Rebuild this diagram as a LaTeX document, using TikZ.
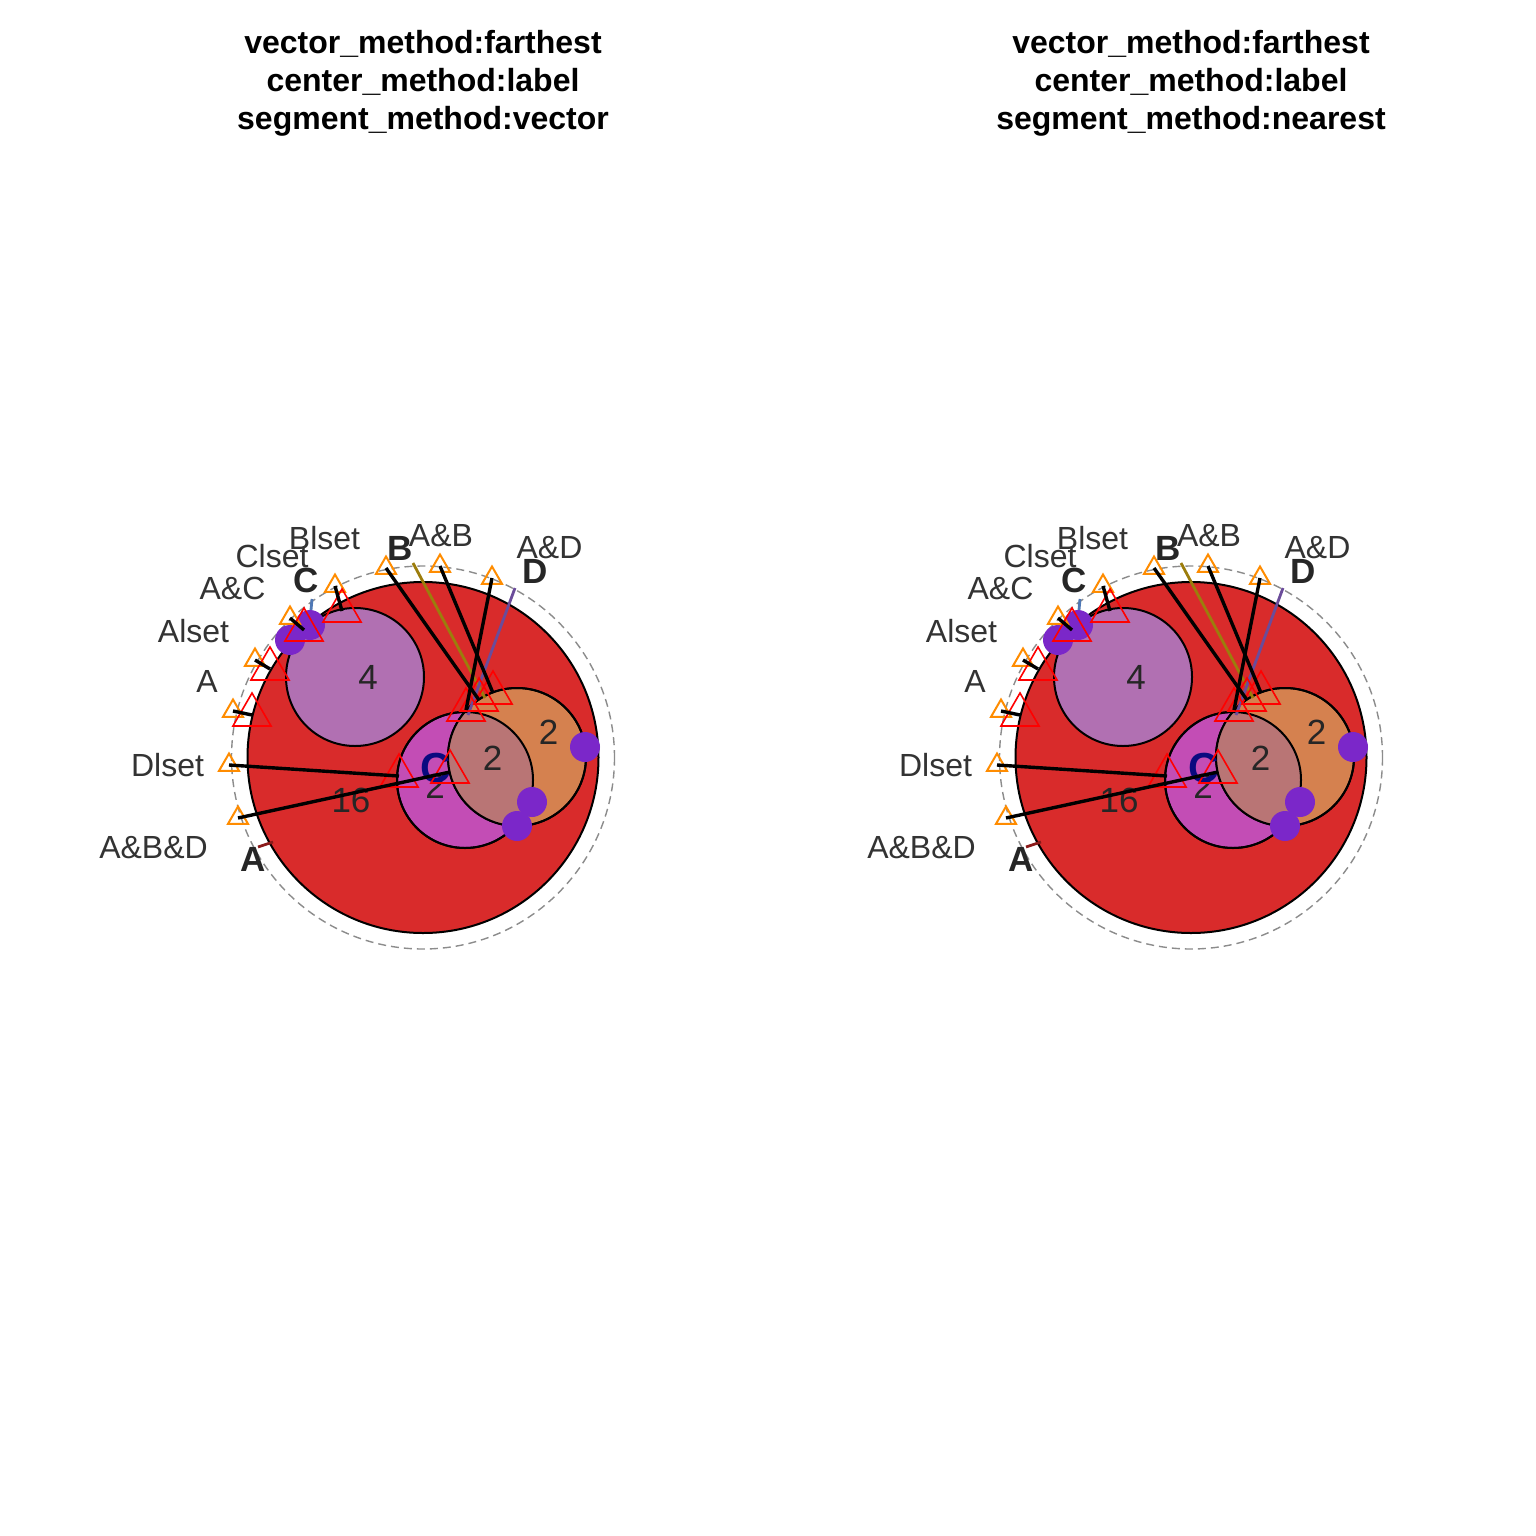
\documentclass[tikz,border=0pt]{standalone}
\usepackage{fontspec}
\setmainfont{Liberation Sans}
\usetikzlibrary{shapes.geometric}
\definecolor{cRed}{HTML}{D92B2B}
\definecolor{cPurp}{HTML}{B170B2}
\definecolor{cMag}{HTML}{C34DB5}
\definecolor{cOra}{HTML}{D5814F}
\definecolor{cOver}{HTML}{B97575}
\definecolor{cDot}{HTML}{7B27C9}
\definecolor{cTriO}{HTML}{FF8C00}
\definecolor{cTriR}{HTML}{FF0000}
\definecolor{cOlive}{HTML}{9C7D0C}
\definecolor{cDline}{HTML}{6B4C9A}
\definecolor{cCline}{HTML}{4F78B5}
\definecolor{cAline}{HTML}{8B1A1A}
\definecolor{cNavy}{HTML}{0A0A80}
\definecolor{cText}{HTML}{333333}
\definecolor{cDark}{HTML}{262626}
\definecolor{cDash}{HTML}{8C8C8C}
\tikzset{
  setcirc/.style={circle, draw=black, line width=1pt, inner sep=0pt, outer sep=0pt},
  dot/.style={circle, fill=cDot, inner sep=0pt, minimum size=15pt},
  otri/.style={regular polygon, regular polygon sides=3, draw=cTriO, line width=1pt, inner sep=0pt, minimum size=11.5pt},
  rtri/.style={regular polygon, regular polygon sides=3, draw=cTriR, line width=0.8pt, inner sep=0pt, minimum size=22pt},
  lab/.style={text=cText, inner sep=0pt, font=\fontsize{16}{19}\selectfont},
  setlab/.style={text=cDark, inner sep=0pt, font=\fontsize{17.5}{20}\selectfont\bfseries},
  num/.style={text=cDark, inner sep=0pt, font=\fontsize{17.5}{20}\selectfont},
  ttl/.style={align=center, inner sep=0pt, font=\fontsize{16}{19}\selectfont\bfseries},
  blk/.style={draw=black, line width=1.7pt},
  seg/.style={line width=1.4pt},
  dashcirc/.style={draw=cDash, line width=0.7pt, dash pattern=on 4pt off 2.5pt},
}
\newcommand\vennpanel[3]{%
\begin{scope}[shift={(#1,0)}, name prefix=#2-]
  \node[ttl] (title) at (423,83) {vector\_method:farthest\\center\_method:label\\segment\_method:#3};
  % circles
  \node[setcirc, fill=cRed, minimum size=175.5pt] (big) at (423,757.5) {};
  \draw[dashcirc] (big.center) circle[radius=191.5];
  \node[setcirc, fill=cPurp, minimum size=69pt] (cfour) at (355,677) {};
  \node[setcirc, fill=cMag, minimum size=68pt] (cmag) at (465,780) {};
  \node[setcirc, fill=cOra, minimum size=69pt] (cora) at (517,757) {};
  \begin{scope}
    \clip (cmag.center) circle[radius=68];
    \fill[cOver] (cora.center) circle[radius=69];
  \end{scope}
  \draw[black, line width=1pt] (cmag.center) circle[radius=68];
  \draw[black, line width=1pt] (cora.center) circle[radius=69];
  % region numbers
  \node[num] (n4) at (368,677) {4};
  \node[num] (n16) at (351,800) {16};
  \node[num] (n2a) at (435,786) {2};
  \node[num] (n2b) at (492.5,758.5) {2};
  \node[num] (n2c) at (548.5,732) {2};
  \node[text=cNavy, inner sep=0pt, font=\fontsize{21}{24}\selectfont\bfseries] (navyC) at (436,768.5) {C};
  % small black segment
  \coordinate (sb1) at (525,815);
  \coordinate (sb2) at (517,826);
  \draw[black, line width=1pt] (sb1) -- (sb2);
  % dots
  \node[dot] (d1) at (585,747) {};
  \node[dot] (d2) at (532,802) {};
  \node[dot] (d3) at (517,826) {};
  \node[dot] (d4) at (290,640) {};
  \node[dot] (d5) at (310,625) {};
  % coloured segments from set labels
  \coordinate (sB1) at (413,563); \coordinate (sB2) at (485,698);
  \coordinate (sD1) at (515,588); \coordinate (sD2) at (468,715);
  \coordinate (sC1) at (312,599); \coordinate (sC2) at (311,610);
  \coordinate (sA1) at (258,847); \coordinate (sA2) at (273,842);
  \draw[seg, cOlive] (sB1) -- (sB2);
  \draw[seg, cDline] (sD1) -- (sD2);
  \draw[seg, cCline] (sC1) -- (sC2);
  \draw[seg, cAline] (sA1) -- (sA2);
  % orange triangles
  \node[otri] (oBlset) at (335,586) {};
  \node[otri] (oAC) at (290,618) {};
  \node[otri] (oAlset) at (255,660) {};
  \node[otri] (oA) at (233,711) {};
  \node[otri] (oDlset) at (229,765) {};
  \node[otri] (oABD) at (238,818) {};
  \node[otri] (oB) at (386,568) {};
  \node[otri] (oAB) at (440,566) {};
  \node[otri] (oAD) at (492,578) {};
  % red triangles
  \node[rtri] (rBlset) at (342,611) {};
  \node[rtri] (rAC) at (304,630) {};
  \node[rtri] (rAlset) at (270,669) {};
  \node[rtri] (rA) at (252,715) {};
  \node[rtri] (rDlset) at (399,776) {};
  \node[rtri] (rABD) at (450,772) {};
  \node[rtri] (rB) at (479,700) {};
  \node[rtri] (rAB) at (493,693) {};
  \node[rtri] (rAD) at (466,710) {};
  % black connectors
  \draw[blk] (oBlset.center) -- (rBlset.center);
  \draw[blk] (oAC.center) -- (rAC.center);
  \draw[blk] (oAlset.center) -- (rAlset.center);
  \draw[blk] (oA.center) -- (rA.center);
  \draw[blk] (oDlset.center) -- (rDlset.center);
  \draw[blk] (oABD.center) -- (rABD.center);
  \draw[blk] (oB.center) -- (rB.center);
  \draw[blk] (oAB.center) -- (rAB.center);
  \draw[blk] (oAD.center) -- (rAD.center);
  % labels
  \node[lab] (tBlset) at (324.5,538) {Blset};
  \node[lab] (tClset) at (272,556) {Clset};
  \node[lab] (tAC) at (232.5,588) {A\&C};
  \node[lab] (tAlset) at (193.5,631) {Alset};
  \node[lab] (tA) at (207,681) {A};
  \node[lab] (tDlset) at (167.5,765) {Dlset};
  \node[lab] (tABD) at (153.5,848) {A\&B\&D};
  \node[lab] (tAB) at (441,536) {A\&B};
  \node[lab] (tAD) at (549.5,548) {A\&D};
  \node[setlab] (LB) at (400.5,548.5) {B};
  \node[setlab] (LD) at (535,571.5) {D};
  \node[setlab] (LC) at (306.5,580) {C};
  \node[setlab] (LA) at (253.5,859) {A};
\end{scope}}
\begin{document}
\begin{tikzpicture}[x=0.5pt,y=-0.5pt]
\useasboundingbox (0,0) rectangle (1536,1536);
\fill[white] (0,0) rectangle (1536,1536);
\vennpanel{0}{L}{vector}
\vennpanel{768}{R}{nearest}
\end{tikzpicture}
\end{document}
